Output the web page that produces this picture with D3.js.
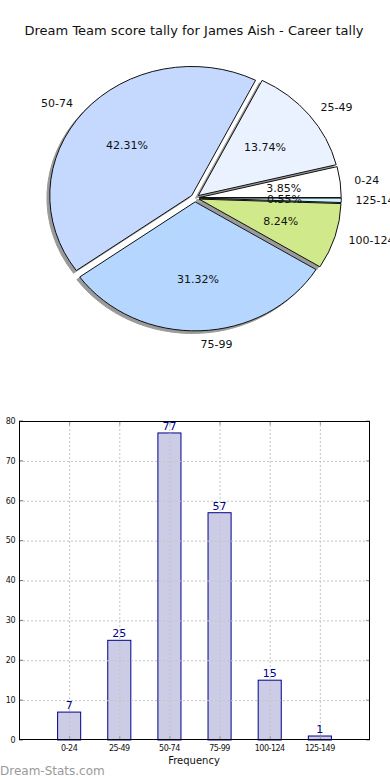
<!DOCTYPE html>
<html><head><meta charset="utf-8">
<script src="https://cdn.jsdelivr.net/npm/d3@7"></script>
<style>
html,body{margin:0;padding:0;background:#fff;}
svg{display:block;font-family:"DejaVu Sans",sans-serif;}
</style></head>
<body>
<svg id="c" width="390" height="780"></svg>
<script>
const categories = ["0-24","25-49","50-74","75-99","100-124","125-149"];
const tallies = [7,25,77,57,15,1];
const pieColors = ["#ffffff","#eaf2ff","#c5d9ff","#b4d6ff","#d0ea8b","#ccf5ff"];
const yTicks = [0,10,20,30,40,50,60,70,80];
const title = "Dream Team score tally for James Aish - Career tally";

const svg = d3.select("#c");

// ---- Title
svg.append("text").attr("x",194).attr("y",35).attr("text-anchor","middle")
  .attr("font-size",13).attr("fill","#111").text(title);

// ---- Pie (matplotlib style: start at 3 o'clock, counter-clockwise, elliptical)
const cx = 195, cy = 198, rx = 142, ry = 129, explode = 0.03, shadowOff = 0.02;
const total = d3.sum(tallies);
let acc = 0;
const slices = tallies.map((v,i)=>{
  const t1 = acc/total*2*Math.PI; acc += v; const t2 = acc/total*2*Math.PI;
  const tm = (t1+t2)/2;
  return {i, v, t1, t2, tm, label: categories[i], pct: (v/total*100).toFixed(2)+"%"};
});
const arc = d3.arc().innerRadius(0).outerRadius(rx);
function wedgePath(s){ return arc({startAngle: Math.PI/2 - s.t2, endAngle: Math.PI/2 - s.t1}); }
const pieG = svg.append("g");
// shadows
slices.forEach(s=>{
  const ox = cx + explode*rx*Math.cos(s.tm) - shadowOff*rx;
  const oy = cy - explode*ry*Math.sin(s.tm) + shadowOff*ry;
  pieG.append("path").attr("d", wedgePath(s))
    .attr("transform", `translate(${ox},${oy}) scale(1,${ry/rx})`)
    .attr("fill","#9a9a9a").attr("stroke","#9a9a9a").attr("stroke-width",1)
    .attr("vector-effect","non-scaling-stroke");
});
// wedges
slices.forEach(s=>{
  const ox = cx + explode*rx*Math.cos(s.tm);
  const oy = cy - explode*ry*Math.sin(s.tm);
  pieG.append("path").attr("d", wedgePath(s))
    .attr("transform", `translate(${ox},${oy}) scale(1,${ry/rx})`)
    .attr("fill", pieColors[s.i]).attr("stroke","#111").attr("stroke-width",1)
    .attr("stroke-linejoin","round")
    .attr("vector-effect","non-scaling-stroke");
});
// labels
slices.forEach(s=>{
  const ox = cx + explode*rx*Math.cos(s.tm);
  const oy = cy - explode*ry*Math.sin(s.tm);
  const lx = ox + 1.1*rx*Math.cos(s.tm), ly = oy - 1.1*ry*Math.sin(s.tm);
  svg.append("text").attr("x",lx).attr("y",ly).attr("dy","0.36em")
    .attr("text-anchor", Math.cos(s.tm) >= 0 ? "start" : "end")
    .attr("font-size",11).attr("fill","#111").text(s.label);
  const px = ox + 0.6*rx*Math.cos(s.tm), py = oy - 0.6*ry*Math.sin(s.tm);
  svg.append("text").attr("x",px).attr("y",py).attr("dy","0.36em")
    .attr("text-anchor","middle").attr("font-size",11).attr("fill","#111").text(s.pct);
});

// ---- Bar chart
const L = 19, R = 370, T = 421, B = 740;
const x = d3.scaleLinear().domain([-1,6]).range([L,R]);
const y = d3.scaleLinear().domain([0,80]).range([B,T]);
const bw = 0.46;
const g = svg.append("g");
g.selectAll("rect.bar").data(tallies).join("rect").attr("class","bar")
  .attr("x",(d,i)=>x(i-bw/2)).attr("width",x(bw)-x(0))
  .attr("y",d=>y(d)).attr("height",d=>B-y(d))
  .attr("fill","#cccce6").attr("stroke","#00008b").attr("stroke-width",1);
// grid
const gridStyle = sel => sel.attr("stroke","#c4c4c4").attr("stroke-width",1).attr("stroke-dasharray","2,2");
g.selectAll("line.gy").data(yTicks.slice(1,-1)).join("line")
  .attr("x1",L).attr("x2",R).attr("y1",d=>y(d)+0.5).attr("y2",d=>y(d)+0.5).call(gridStyle);
g.selectAll("line.gx").data(categories).join("line")
  .attr("x1",(d,i)=>x(i)+0.5).attr("x2",(d,i)=>x(i)+0.5).attr("y1",T).attr("y2",B).call(gridStyle);
// ticks (inward)
g.selectAll("line.tl").data(yTicks).join("line")
  .attr("x1",L).attr("x2",L+4).attr("y1",d=>y(d)).attr("y2",d=>y(d)).attr("stroke","#777");
g.selectAll("line.tr").data(yTicks).join("line")
  .attr("x1",R-4).attr("x2",R).attr("y1",d=>y(d)).attr("y2",d=>y(d)).attr("stroke","#999");
g.selectAll("line.tt").data(categories).join("line")
  .attr("x1",(d,i)=>x(i)+0.5).attr("x2",(d,i)=>x(i)+0.5).attr("y1",T).attr("y2",T+4).attr("stroke","#999");
g.selectAll("line.tb").data(categories).join("line")
  .attr("x1",(d,i)=>x(i)+0.5).attr("x2",(d,i)=>x(i)+0.5).attr("y1",B-4).attr("y2",B).attr("stroke","#999");
// frame
g.append("rect").attr("x",L+0.5).attr("y",T+0.5).attr("width",R-L-1).attr("height",B-T-1)
  .attr("fill","none").attr("stroke","#000").attr("stroke-width",1);
// y tick labels
g.selectAll("text.yl").data(yTicks).join("text")
  .attr("x",L-4).attr("y",d=>y(d)).attr("dy","0.35em").attr("text-anchor","end")
  .attr("font-size",8).attr("fill","#111").attr("letter-spacing","-0.5").text(d=>d);
// x tick labels
g.selectAll("text.xl").data(categories).join("text")
  .attr("x",(d,i)=>x(i)).attr("y",B+11).attr("text-anchor","middle")
  .attr("font-size",8).attr("fill","#111").attr("letter-spacing","-0.5").text(d=>d);
// value labels
g.selectAll("text.vl").data(tallies).join("text")
  .attr("x",(d,i)=>x(i)).attr("y",d=>y(d)-3).attr("text-anchor","middle")
  .attr("font-size",11).attr("fill","#00008b").text(d=>d);
// axis label
svg.append("text").attr("x",194).attr("y",764).attr("text-anchor","middle")
  .attr("font-size",10).attr("fill","#111").text("Frequency");
// watermark
svg.append("text").attr("x",0).attr("y",775).attr("font-size",12)
  .attr("fill","#9a9a9a").text("Dream-Stats.com");
</script>
</body></html>
